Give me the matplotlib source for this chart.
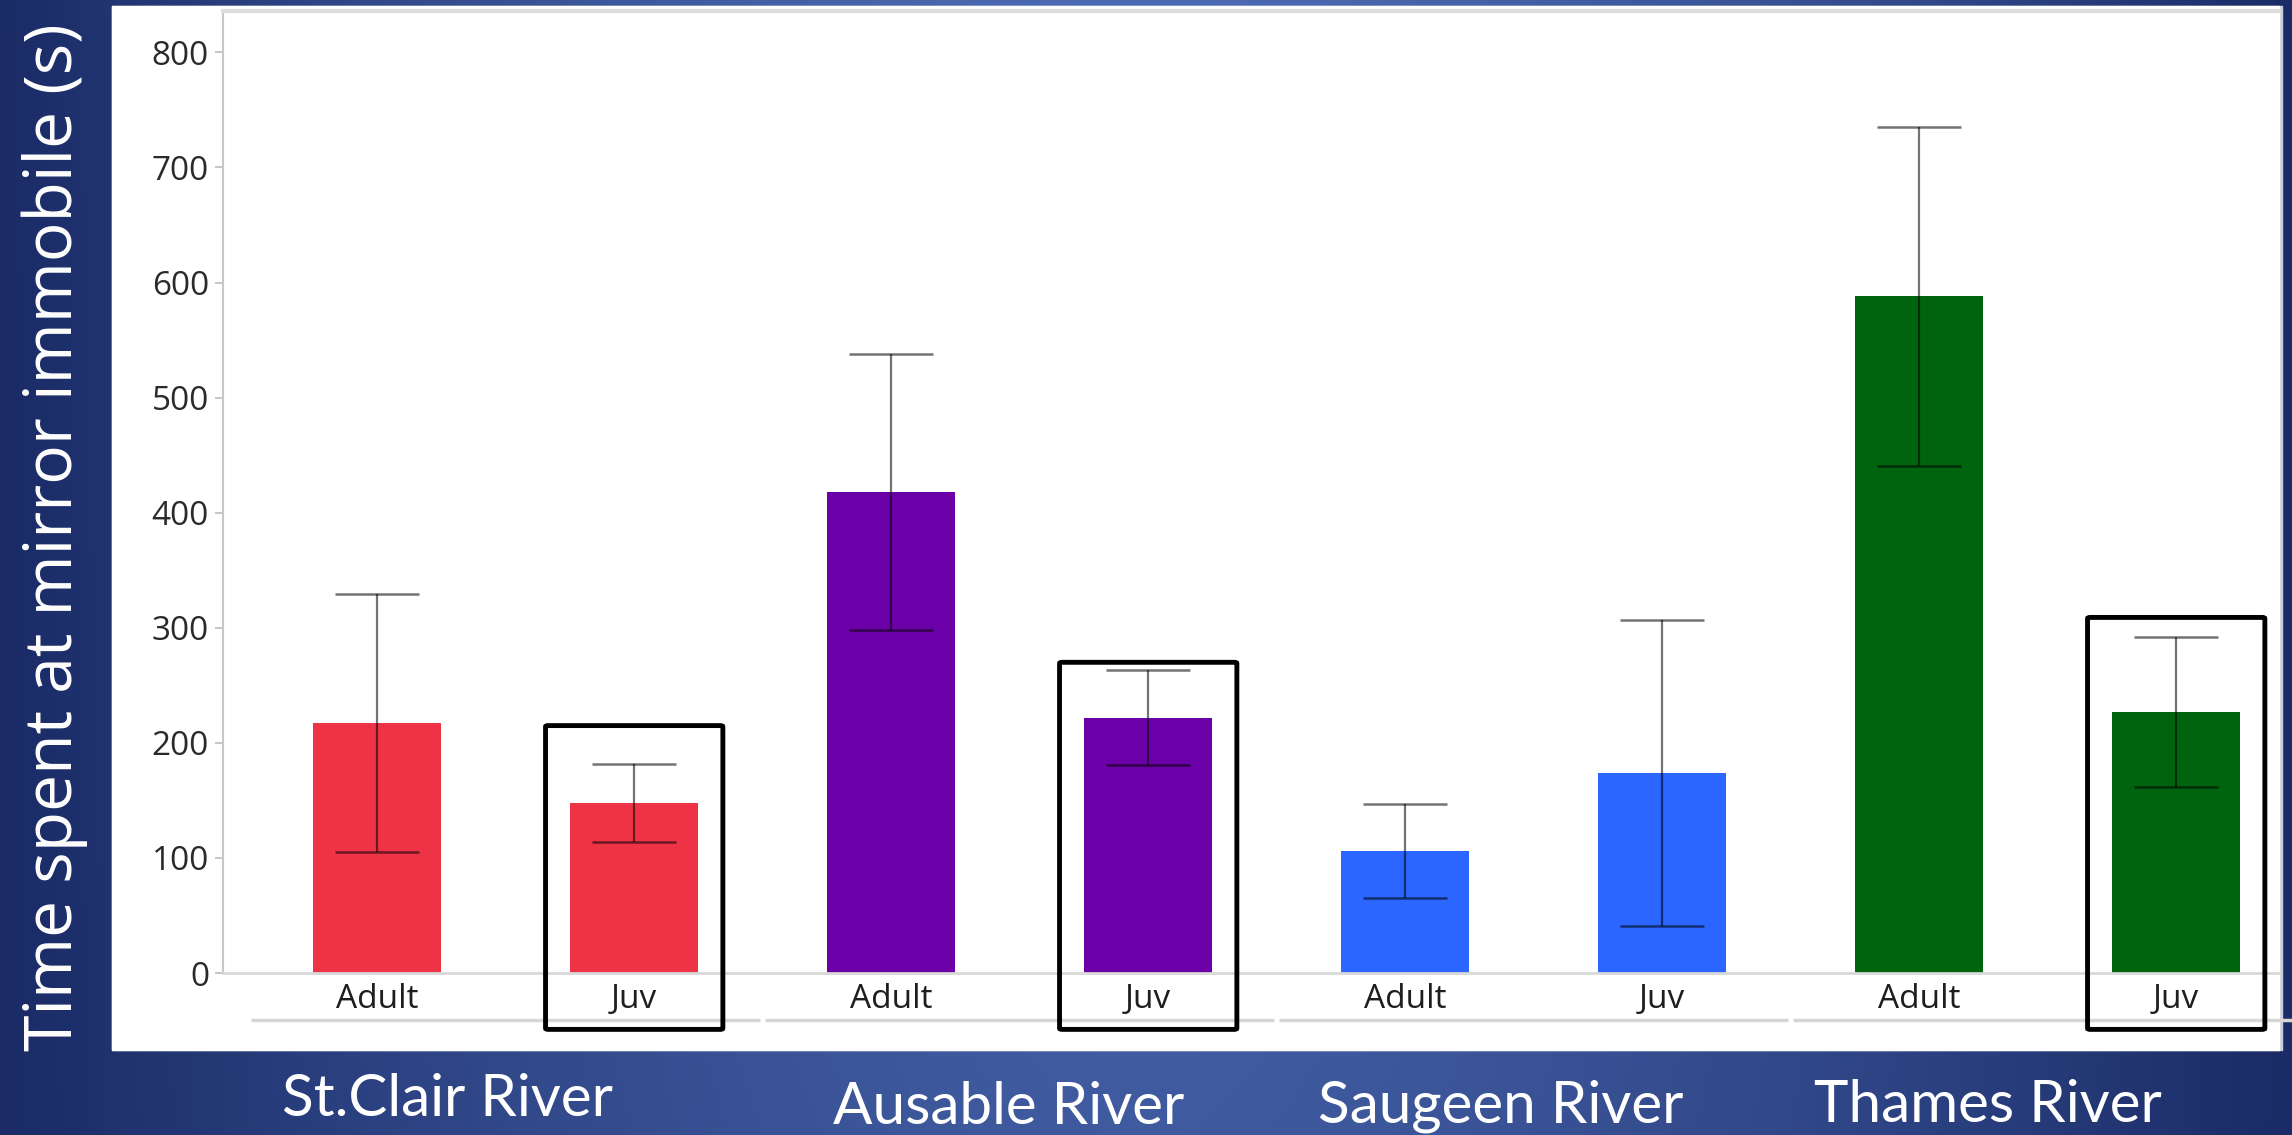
import numpy as np
import matplotlib.pyplot as plt
from matplotlib.patches import Rectangle, FancyBboxPatch

rivers = ["St.Clair River", "Ausable River", "Saugeen River", "Thames River"]
stages = ["Adult", "Juv"]
river_colors = ["#EE3346", "#6B00A8", "#2A66FF", "#00640F"]

# mean time at mirror (s) and standard error, Adult then Juv per river
means = [217, 148, 418, 222, 106, 174, 588, 227]
errors = [112, 34, 120, 41, 41, 133, 147, 65]

# juvenile bars that get a black highlight box, with the box top (s)
highlight_bars = [1, 3, 7]
highlight_tops = [215, 270, 309]

W, H = 2292, 1135
fig = plt.figure(figsize=(W / 100, H / 100), dpi=100)

# slide background: navy at the edges, lighter blue in the middle
bg = fig.add_axes([0, 0, 1, 1])
xx = np.linspace(-1, 1, 600)
yy = np.linspace(0, 1, 300)
X, Y = np.meshgrid(xx, yy)
t = np.clip(1 - np.abs(X) ** 1.6, 0, 1) * (0.75 + 0.25 * Y)
dark = np.array([0x1a, 0x2b, 0x66]) / 255
light = np.array([0x4c, 0x6a, 0xb2]) / 255
img = dark + (light - dark) * t[..., None]
bg.imshow(img, aspect="auto", extent=[0, 1, 0, 1], origin="lower")
bg.set_xlim(0, 1)
bg.set_ylim(0, 1)
bg.axis("off")

# white chart panel with a faint shadow on the right
px0, py0, px1, py1 = 112 / W, 1 - 1050 / H, 2279 / W, 1 - 6 / H
fig.patches.append(Rectangle((px0, py0), px1 - px0 + 0.0015, py1 - py0,
                             transform=fig.transFigure, color="#c9cedb", zorder=1))
fig.patches.append(Rectangle((px0, py0), px1 - px0, py1 - py0,
                             transform=fig.transFigure, color="white", zorder=2))

ax = fig.add_axes([223 / W, 1 - 973 / H, (2279 - 223) / W, (973 - 11) / H])
ax.set_zorder(3)
ax.patch.set_visible(False)

x = np.arange(len(means))
colors = [c for c in river_colors for _ in stages]
ax.bar(x, means, width=0.5, color=colors, zorder=2)
ax.errorbar(x, means, yerr=errors, fmt="none", ecolor=(0, 0, 0, 0.55),
            elinewidth=1.6, capsize=30, capthick=1.8, zorder=3)

ax.set_xlim(-0.6, 7.4)
ax.set_ylim(0, 836)
ax.set_yticks(range(0, 801, 100))
ax.set_xticks(x)
ax.set_xticklabels(stages * len(rivers))
ax.tick_params(axis="y", colors="#bbbbbb", length=6, width=1.2, pad=4,
               labelcolor="#2a2a2a", labelsize=24)
ax.tick_params(axis="x", length=0, pad=7, labelcolor="#1e1e1e", labelsize=24)
for lab in ax.get_xticklabels() + ax.get_yticklabels():
    lab.set_family("Open Sans")

ax.spines["right"].set_visible(False)
ax.spines["left"].set_color("#c8c8c8")
ax.spines["left"].set_linewidth(1.5)
ax.spines["bottom"].set_color("#d8d8d8")
ax.spines["bottom"].set_linewidth(2)
ax.spines["top"].set_color("#dddddd")
ax.spines["top"].set_linewidth(3)

# group lines under each pair of bars
for g in range(len(rivers)):
    ax.plot([2 * g - 0.49, 2 * g + 1.49], [-41, -41], color="#d6d6d6", lw=2.5,
            clip_on=False, solid_capstyle="butt", zorder=1)

# highlight boxes around juvenile bars
for b, top in zip(highlight_bars, highlight_tops):
    box = FancyBboxPatch((b - 0.345, -49), 0.69, top + 49,
                         boxstyle="round,pad=0,rounding_size=0.01",
                         fill=False, ec="black", lw=3.5, clip_on=False,
                         mutation_aspect=100, zorder=4)
    ax.add_patch(box)

fig.text(55 / W, 1 - 537 / H, "Time spent at mirror immobile (s)", rotation=90,
         ha="center", va="center", color="white", fontsize=47.5, family="Open Sans")

name_x = [447, 1009, 1501, 1988]
name_y = [1100, 1108, 1106, 1105]
for name, nx, ny in zip(rivers, name_x, name_y):
    fig.text(nx / W, 1 - ny / H, name, ha="center", va="center", color="white",
             fontsize=42, family="Lato")

fig.savefig("out.png", dpi=100)
